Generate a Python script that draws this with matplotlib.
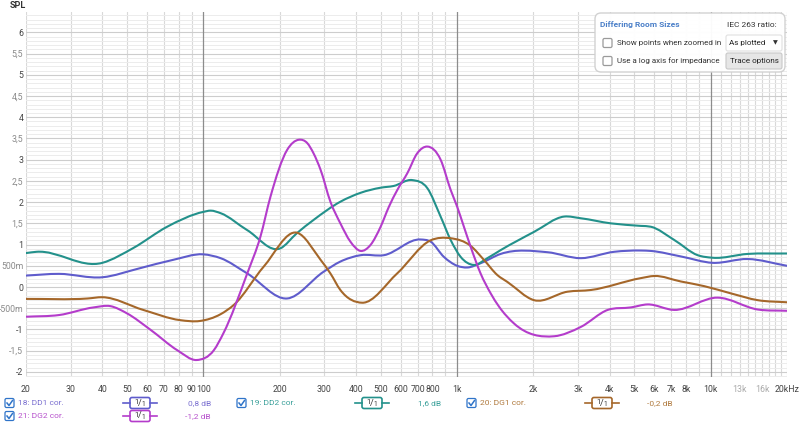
import matplotlib
matplotlib.use("Agg")
import matplotlib.pyplot as plt
from matplotlib.patches import FancyBboxPatch, PathPatch
from matplotlib.path import Path
import numpy as np

plt.rcParams['font.family'] = ['Roboto', 'DejaVu Sans']

# ---------------- data ----------------
dd1_freq = [20, 27, 40, 56, 76, 100, 117, 149, 214, 298, 347, 417, 515, 719, 787, 888, 1002,
            1099, 1239, 1487, 2274, 3078, 4168, 5312, 5816, 7638, 10186, 14000, 20000]
dd1_spl = [0.27, 0.31, 0.23, 0.44, 0.64, 0.77, 0.68, 0.32, -0.27, 0.36, 0.60, 0.75, 0.75, 1.12,
           1.07, 0.71, 0.50, 0.46, 0.56, 0.78, 0.82, 0.68, 0.83, 0.86, 0.85, 0.72, 0.57, 0.66, 0.50]

dd2_freq = [20, 22, 40, 53, 72, 100, 107, 117, 149, 201, 234, 272, 347, 417, 500, 562, 666, 764,
            862, 944, 1034, 1166, 1318, 1487, 2014, 2644, 3078, 4043, 5312, 5816, 7180, 8892, 10186,
            14000, 20000]
dd2_spl = [0.80, 0.83, 0.57, 0.92, 1.42, 1.77, 1.80, 1.74, 1.34, 0.91, 1.27, 1.58, 2.01, 2.22, 2.34,
           2.38, 2.52, 2.33, 1.66, 1.11, 0.71, 0.52, 0.68, 0.87, 1.30, 1.66, 1.62, 1.50, 1.44, 1.42,
           1.11, 0.75, 0.69, 0.78, 0.79]

dg1_freq = [20, 35, 40, 58, 81, 97, 117, 132, 173, 234, 290, 317, 347, 423, 581, 787, 944, 1132,
            1277, 1444, 1580, 2014, 2728, 3371, 5312, 5994, 7638, 9440, 12020, 15340, 20000]
dg1_spl = [-0.28, -0.27, -0.24, -0.54, -0.78, -0.80, -0.64, -0.42, 0.48, 1.28, 0.64, 0.32, -0.07,
           -0.37, 0.32, 1.10, 1.15, 0.97, 0.64, 0.28, 0.12, -0.31, -0.11, -0.07, 0.21, 0.26, 0.13,
           0.02, -0.15, -0.31, -0.36]

dg2_freq = [20, 27, 37, 43, 50, 62, 79, 94, 110, 120, 149, 168, 184, 214, 238, 257, 272, 290,
            317, 347, 380, 417, 456, 500, 539, 581, 637, 697, 764, 862, 944, 1002, 1065, 1132,
            1239, 1358, 1464, 1679, 2415, 3078, 3926, 4853, 5640, 7180, 10660, 15340, 20000]
dg2_spl = [-0.70, -0.66, -0.48, -0.45, -0.62, -1.01, -1.49, -1.72, -1.49, -1.09, 0.32, 1.19, 2.13,
           3.23, 3.47, 3.39, 3.15, 2.76, 2.01, 1.50, 1.07, 0.85, 0.99, 1.42, 1.89, 2.28, 2.68,
           3.15, 3.31, 3.00, 2.29, 1.89, 1.42, 0.95, 0.32, -0.15, -0.46, -0.86, -1.16, -0.94,
           -0.54, -0.48, -0.41, -0.54, -0.25, -0.53, -0.56]

series_names = ["18: DD1 cor.", "19: DD2 cor.", "20: DG1 cor.", "21: DG2 cor."]
series_offsets = ["0,8 dB", "1,6 dB", "-0,2 dB", "-1,2 dB"]

y_ticks = [-2, -1.5, -1, -0.5, 0, 0.5, 1, 1.5, 2, 2.5, 3, 3.5, 4, 4.5, 5, 5.5, 6]
y_labels = ["-2", "-1,5", "-1", "-500m", "0", "500m", "1", "1,5", "2", "2,5", "3", "3,5",
            "4", "4,5", "5", "5,5", "6"]
x_ticks = [20, 30, 40, 50, 60, 70, 80, 90, 100, 200, 300, 400, 500, 600, 700, 800, 1000,
           2000, 3000, 4000, 5000, 6000, 7000, 8000, 10000, 13000, 16000, 20000]
x_labels = ["20", "30", "40", "50", "60", "70", "80", "90", "100", "200", "300", "400", "500",
            "600", "700", "800", "1k", "2k", "3k", "4k", "5k", "6k", "7k", "8k", "10k", "13k",
            "16k", "20kHz"]

# ---------------- styling ----------------
C_DD1 = "#5f5ccc"
C_DD2 = "#23918b"
C_DG1 = "#a5672a"
C_DG2 = "#b43ccb"
T_DD1 = "#7a6fd0"
T_DD2 = "#3aa09a"
T_DG1 = "#b07a3e"
T_DG2 = "#b651cc"

W, H = 800, 424
fig = plt.figure(figsize=(W / 100, H / 100), dpi=100)
fig.patch.set_facecolor("white")

L, R, T, B = 26, 787, 12, 377
ax = fig.add_axes([L / W, 1 - B / H, (R - L) / W, (B - T) / H])
ax.set_xscale("log")
ax.set_xlim(20, 20000)
ax.set_ylim(-2.12, 6.48)

# grid
minor_x = []
for dec in [10, 100, 1000, 10000]:
    for m in range(2, 10):
        f = m * dec
        if 20 <= f <= 20000:
            minor_x.append(f)
for f in range(11000, 20000, 1000):
    minor_x.append(f)
for f in minor_x:
    ax.axvline(f, color="#d9d9d9", lw=0.8, zorder=0)
for f in [100, 1000, 10000]:
    ax.axvline(f, color="#8c8c8c", lw=0.9, zorder=0.5)
for v in np.arange(-2.1, 6.5, 0.1):
    ax.axhline(v, color="#ececec", lw=0.7, zorder=0)
for v in y_ticks:
    ax.axhline(v, color="#cdcdcd", lw=0.8, zorder=0.2)


def smooth_path(freqs, vals):
    """Cubic Hermite Bezier path through the read points (in log-frequency space)."""
    lx = np.log10(np.asarray(freqs, float))
    y = np.asarray(vals, float)
    n = len(lx)
    m = np.zeros(n)
    m[0] = (y[1] - y[0]) / (lx[1] - lx[0])
    m[-1] = (y[-1] - y[-2]) / (lx[-1] - lx[-2])
    for i in range(1, n - 1):
        d0 = (y[i] - y[i - 1]) / (lx[i] - lx[i - 1])
        d1 = (y[i + 1] - y[i]) / (lx[i + 1] - lx[i])
        h0 = lx[i] - lx[i - 1]
        h1 = lx[i + 1] - lx[i]
        m[i] = (d0 * h1 + d1 * h0) / (h0 + h1)
    verts = [(freqs[0], y[0])]
    codes = [Path.MOVETO]
    for i in range(n - 1):
        h = lx[i + 1] - lx[i]
        verts.append((10 ** (lx[i] + h / 3), y[i] + m[i] * h / 3))
        verts.append((10 ** (lx[i + 1] - h / 3), y[i + 1] - m[i + 1] * h / 3))
        verts.append((freqs[i + 1], y[i + 1]))
        codes += [Path.CURVE4] * 3
    return Path(verts, codes)


for fr, vv, c in [(dd1_freq, dd1_spl, C_DD1), (dd2_freq, dd2_spl, C_DD2),
                  (dg1_freq, dg1_spl, C_DG1), (dg2_freq, dg2_spl, C_DG2)]:
    ax.add_patch(PathPatch(smooth_path(fr, vv), fill=False, ec=c, lw=1.5, zorder=3,
                           capstyle="round", joinstyle="round"))

ax.set_yticks(y_ticks)
ax.set_yticklabels(y_labels)
ax.set_xticks(x_ticks)
ax.set_xticklabels(x_labels)
ax.minorticks_off()
ax.tick_params(axis="both", length=0, labelsize=6.3, colors="#555555")
ax.tick_params(axis="y", pad=2)
ax.tick_params(axis="x", pad=6)
for lab, v in zip(ax.get_yticklabels(), y_ticks):
    lab.set_color("#444444" if float(v).is_integer() else "#8a8a8a")
for lab, f in zip(ax.get_xticklabels(), x_ticks):
    lab.set_color("#aaaaaa" if f in (13000, 16000) else "#444444")
for s in ax.spines.values():
    s.set_visible(False)

# ---------------- overlay (pixel coordinates) ----------------
ov = fig.add_axes([0, 0, 1, 1], zorder=10)
ov.set_xlim(0, W)
ov.set_ylim(H, 0)
ov.axis("off")

ov.text(10, 6, "SPL", fontsize=6.5, color="#333333", va="center", ha="left", fontweight="bold")

# info panel
ov.add_patch(FancyBboxPatch((595, 13), 190, 59, boxstyle="round,pad=0,rounding_size=6",
                            fc="white", ec="#d0d0d0", lw=1.0, alpha=0.97))
ov.text(600, 25, "Differing Room Sizes", fontsize=6, color="#4a7fc8", fontweight="bold",
        va="center", ha="left")
ov.text(777, 25, "IEC 263 ratio:", fontsize=6, color="#333333", va="center", ha="right")


def checkbox(x, y, checked, color="#2f74c9"):
    ov.add_patch(FancyBboxPatch((x, y - 4.5), 9, 9, boxstyle="round,pad=0,rounding_size=1.5",
                                fc="white", ec=color if checked else "#9a9a9a", lw=0.9))
    if checked:
        ov.plot([x + 2, x + 4, x + 7.5], [y, y + 2.5, y - 2.5], color=color, lw=1.1)


checkbox(603, 43, False)
ov.text(617, 43, "Show points when zoomed in", fontsize=5.8, color="#333333", va="center")
checkbox(603, 61, False)
ov.text(617, 61, "Use a log axis for impedance", fontsize=5.8, color="#333333", va="center")
ov.add_patch(FancyBboxPatch((726, 35), 56, 16, boxstyle="round,pad=0,rounding_size=2",
                            fc="white", ec="#e0e0e0", lw=0.8))
ov.text(729, 43, "As plotted", fontsize=5.8, color="#222222", va="center")
ov.text(775, 43, "▼", fontsize=4.5, color="#333333", va="center", ha="center",
        family=["DejaVu Sans"])
ov.add_patch(FancyBboxPatch((726, 53), 56, 16, boxstyle="round,pad=0,rounding_size=2",
                            fc="#e6e6e6", ec="#c8c8c8", lw=0.8))
ov.text(754, 61, "Trace options", fontsize=5.8, color="#222222", va="center", ha="center")


def smooth_box(cx, y, color):
    ov.plot([cx - 17, cx - 10], [y, y], color=color, lw=1.2)
    ov.plot([cx + 10, cx + 17], [y, y], color=color, lw=1.2)
    ov.add_patch(FancyBboxPatch((cx - 10, y - 5.5), 20, 11, boxstyle="round,pad=0,rounding_size=2",
                                fc="white", ec=color, lw=1.2))
    ov.text(cx - 3.2, y - 1.0, "1", fontsize=5.5, color="#333333", va="center", ha="center")
    ov.text(cx, y, "/", fontsize=6.5, color="#333333", va="center", ha="center")
    ov.text(cx + 3.4, y + 1.3, "1", fontsize=4.8, color="#333333", va="center", ha="center")


rows = [
    (8, 403, 140, 211, series_names[0], series_offsets[0], C_DD1, T_DD1),
    (240, 403, 372, 441, series_names[1], series_offsets[1], C_DD2, T_DD2),
    (470, 403, 602, 673, series_names[2], series_offsets[2], C_DG1, T_DG1),
    (8, 416, 140, 211, series_names[3], series_offsets[3], C_DG2, T_DG2),
]
for x0, y0, bx, tx, name, off, lc, tc in rows:
    checkbox(x0 - 3, y0, True)
    ov.text(x0 + 10, y0, name, fontsize=6, color=tc, va="center", ha="left")
    smooth_box(bx, y0, lc)
    ov.text(tx, y0, off, fontsize=6, color=tc, va="center", ha="right")

fig.savefig("out.png", dpi=100)
